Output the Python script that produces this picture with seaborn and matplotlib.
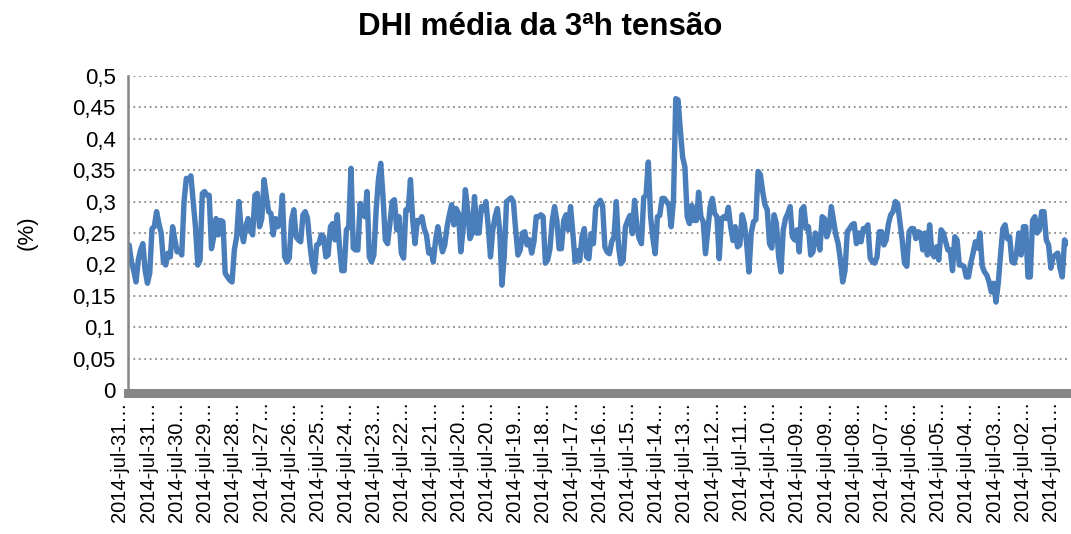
import matplotlib
matplotlib.use("Agg")
import matplotlib.pyplot as plt
import seaborn as sns
import pandas as pd
import numpy as np
from matplotlib.transforms import ScaledTranslation

# valores (DHI média da 3ª harmónica, %), de 31-jul para 01-jul
dhi_a = [0.231, 0.204, 0.19, 0.172, 0.207, 0.223, 0.233, 0.19, 0.17, 0.186,
         0.257, 0.26, 0.284, 0.265, 0.25, 0.204, 0.199, 0.218, 0.212, 0.26,
         0.239, 0.22, 0.223, 0.215, 0.30, 0.337, 0.335, 0.341, 0.30, 0.26,
         0.199, 0.207, 0.313, 0.316, 0.31, 0.31, 0.225, 0.244, 0.273, 0.247,
         0.27, 0.268, 0.186, 0.18, 0.175, 0.172, 0.223, 0.244, 0.30, 0.255,
         0.236, 0.26, 0.273, 0.255, 0.247, 0.31, 0.313, 0.26, 0.273, 0.335,
         0.308, 0.284, 0.281, 0.247, 0.273, 0.26, 0.265, 0.31]
dhi_b = [0.212, 0.204, 0.21, 0.27, 0.287, 0.244, 0.239, 0.236, 0.279, 0.284,
         0.273, 0.233, 0.202, 0.188, 0.231, 0.233, 0.247, 0.244, 0.212, 0.215,
         0.26, 0.265, 0.239, 0.279, 0.226, 0.19, 0.19, 0.255, 0.26, 0.353,
         0.226, 0.223, 0.223, 0.297, 0.281, 0.276, 0.316, 0.212, 0.204, 0.215,
         0.287, 0.335, 0.361, 0.308, 0.239, 0.233, 0.265, 0.30, 0.303, 0.255,
         0.276, 0.218, 0.21, 0.287, 0.287, 0.335, 0.27, 0.233, 0.27, 0.268,
         0.276, 0.257, 0.247, 0.218]
dhi_c = [0.223, 0.204, 0.239, 0.26, 0.239, 0.22, 0.231, 0.26, 0.279, 0.295,
         0.263, 0.289, 0.281, 0.22, 0.255, 0.319, 0.287, 0.241, 0.25, 0.308,
         0.25, 0.25, 0.292, 0.287, 0.30, 0.26, 0.212, 0.255, 0.276, 0.289,
         0.255, 0.167, 0.212, 0.30, 0.303, 0.306, 0.30, 0.255, 0.215, 0.223,
         0.25, 0.252, 0.231, 0.239, 0.218, 0.236, 0.276, 0.276, 0.279, 0.276,
         0.202, 0.207, 0.225, 0.27, 0.292, 0.27, 0.225, 0.225, 0.27, 0.279,
         0.255, 0.292, 0.25, 0.204]
dhi_d = [0.222, 0.206, 0.244, 0.257, 0.212, 0.209, 0.249, 0.233, 0.291, 0.297,
         0.302, 0.294, 0.228, 0.22, 0.217, 0.236, 0.244, 0.30, 0.228, 0.201,
         0.206, 0.26, 0.27, 0.278, 0.249, 0.302, 0.26, 0.241, 0.233, 0.307,
         0.31, 0.363, 0.276, 0.241, 0.217, 0.276, 0.278, 0.305, 0.305, 0.30,
         0.294, 0.26, 0.302, 0.464, 0.462, 0.414, 0.371, 0.355, 0.276, 0.265,
         0.294, 0.27, 0.27, 0.315, 0.276, 0.268, 0.217, 0.254, 0.291, 0.305,
         0.281, 0.276, 0.209, 0.273, 0.276, 0.273, 0.291, 0.26, 0.238, 0.26]
dhi_e = [0.228, 0.231, 0.279, 0.265, 0.233, 0.188, 0.25, 0.268, 0.271, 0.348,
         0.343, 0.316, 0.295, 0.287, 0.233, 0.226, 0.279, 0.265, 0.212, 0.188,
         0.255, 0.273, 0.281, 0.292, 0.244, 0.239, 0.255, 0.22, 0.287, 0.292,
         0.257, 0.26, 0.215, 0.22, 0.25, 0.244, 0.223, 0.276, 0.273, 0.244,
         0.255, 0.292, 0.27, 0.247, 0.233, 0.207, 0.172, 0.19, 0.252, 0.257,
         0.263, 0.265, 0.233, 0.25, 0.236, 0.257, 0.257, 0.263, 0.21, 0.204,
         0.202, 0.212, 0.252, 0.252, 0.231, 0.239, 0.265, 0.279, 0.284, 0.30]
dhi_f = [0.297, 0.268, 0.239, 0.202, 0.197, 0.252, 0.257, 0.257, 0.241, 0.252,
         0.25, 0.223, 0.25, 0.215, 0.263, 0.218, 0.212, 0.228, 0.207, 0.255,
         0.25, 0.236, 0.223, 0.223, 0.19, 0.244, 0.239, 0.199, 0.199, 0.197,
         0.18, 0.18, 0.202, 0.218, 0.236, 0.226, 0.25, 0.197, 0.188, 0.183,
         0.172, 0.156, 0.17, 0.14, 0.17, 0.215, 0.257, 0.263, 0.241, 0.244,
         0.204, 0.202, 0.218, 0.25, 0.215, 0.26, 0.26, 0.18, 0.18, 0.27,
         0.276, 0.25, 0.255, 0.284, 0.284, 0.239, 0.231, 0.194, 0.212, 0.215,
         0.218, 0.194, 0.18, 0.239, 0.233]

dias = ['31', '31', '30', '29', '28', '27', '26', '25', '24', '23', '22', '21',
        '20', '20', '19', '18', '17', '16', '15', '14', '13', '12', '11', '10',
        '09', '09', '08', '07', '06', '05', '04', '03', '02', '01']
x_labels = ['2014-jul-' + d + '…' for d in dias]
y_ticks = [0, 0.05, 0.1, 0.15, 0.2, 0.25, 0.3, 0.35, 0.4, 0.45, 0.5]
y_labels = ['0', '0,05', '0,1', '0,15', '0,2', '0,25', '0,3', '0,35', '0,4', '0,45', '0,5']

dhi = dhi_a + dhi_b + dhi_c + dhi_d + dhi_e + dhi_f
df = pd.DataFrame({'pos': np.arange(len(dhi)), 'DHI': dhi})

sns.set_style("white")
plt.rcParams['font.family'] = ['Liberation Sans', 'DejaVu Sans']
plt.rcParams['text.color'] = 'black'

W, H = 1071, 534
fig = plt.figure(figsize=(W / 100, H / 100), dpi=100)
ax = fig.add_axes([128 / W, 1 - 390 / H, 940 / W, 314 / H])

sns.lineplot(data=df, x='pos', y='DHI', ax=ax, color='#4a7ebb', linewidth=3.9)

n = len(dhi)
ax.set_xlim(-0.5, n - 0.5)
ax.set_ylim(0, 0.5)
ax.set_yticks(y_ticks)
ax.set_yticklabels(y_labels)

step = 28.2 / 940 * n
first = 9 / 940 * n - 0.5
ax.set_xticks([first + i * step for i in range(len(x_labels))])
ax.set_xticklabels(x_labels)

ax.yaxis.grid(True, linestyle=(0, (1, 2)), color='#8a8a8a', linewidth=1.3)
ax.xaxis.grid(False)
for s in ['top', 'right']:
    ax.spines[s].set_visible(False)
ax.spines['left'].set_color('#868686')
ax.spines['left'].set_linewidth(1.8)
ax.spines['bottom'].set_color('#868686')
ax.spines['bottom'].set_linewidth(6.5)
ax.spines['bottom'].set_position(('outward', 2))
ax.tick_params(axis='y', length=5, width=1.2, color='#868686', pad=4,
               labelcolor='black', labelsize=16)
ax.tick_params(axis='x', length=3, width=1, color='#868686', pad=3,
               labelcolor='black', labelsize=14.5, labelrotation=90)

ax.set_xlabel('')
ax.set_ylabel('(%)', fontsize=16, color='black')
ax.yaxis.set_label_coords(-0.0957, 0.5)

fig.text(540 / W, 1 - 27 / H, 'DHI média da 3ªh tensão', ha='center', va='center',
         fontsize=22.5, fontweight='bold', color='black')

# rótulos do eixo x ligeiramente à esquerda das marcas, como no original
shift = ScaledTranslation(-0.17, 0, fig.dpi_scale_trans)
for tick in ax.xaxis.get_major_ticks():
    tick.label1.set_transform(tick.label1.get_transform() + shift)

fig.savefig('out.png', dpi=100)
